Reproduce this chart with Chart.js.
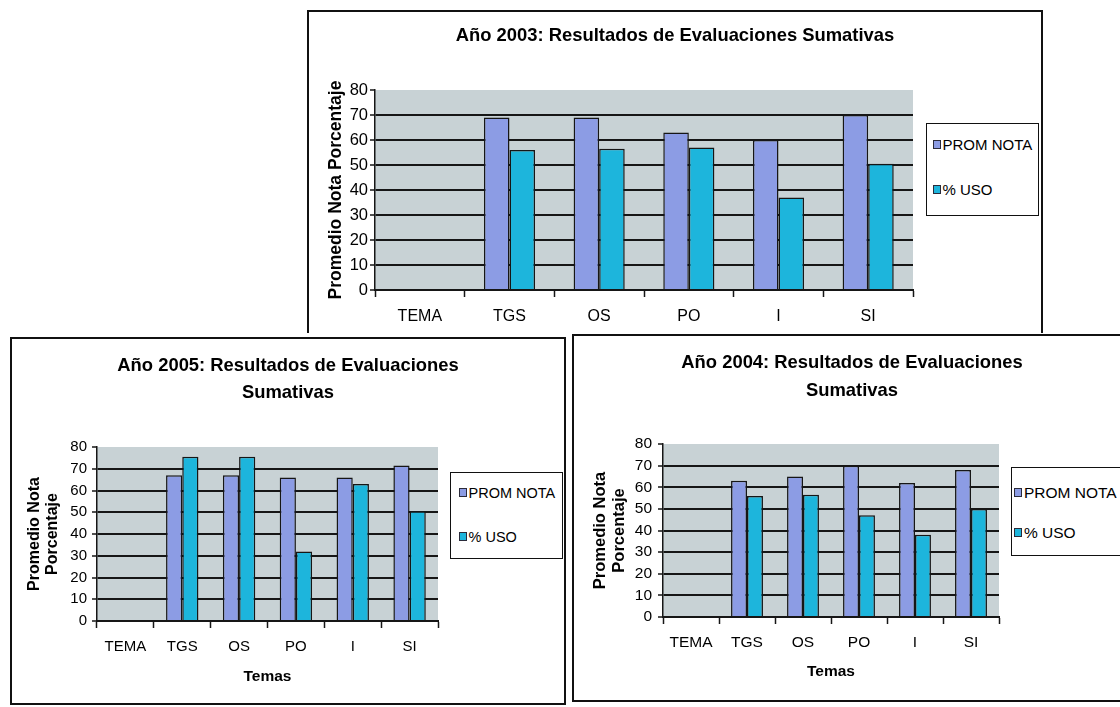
<!DOCTYPE html>
<html>
<head>
<meta charset="utf-8">
<script src="https://cdn.jsdelivr.net/npm/chart.js@4.4.1/dist/chart.umd.min.js"></script>
<style>
  html, body { margin: 0; padding: 0; background: #fff; width: 1120px; height: 707px; overflow: hidden; }
  .panel { position: absolute; }
  .panel canvas { display: block; }
  .legend { position: absolute; background: #fff; border: 1.5px solid #111; box-sizing: border-box;
            font-family: "Liberation Sans", Arial, sans-serif; color: #000; }
  .legend .item { position: absolute; height: 18px; line-height: 18px; display: flex; align-items: center; white-space: nowrap; }
  .legend .sw { display: inline-block; width: 6px; height: 7px; border: 1px solid #2b2b3a; margin-right: 2px; }
</style>
</head>
<body>
<div class="panel" style="left:307px; top:10px;"><canvas id="c2003" width="736" height="323"></canvas></div>
<div class="panel" style="left:10px; top:337px;"><canvas id="c2005" width="556" height="368"></canvas></div>
<div class="panel" style="left:572px; top:334px;"><canvas id="c2004" width="560" height="368"></canvas></div>
<script>
// Temas evaluados y resultados por año
const temas = ['TEMA', 'TGS', 'OS', 'PO', 'I', 'SI'];
const nombresSeries = ['PROM NOTA', '% USO'];
const yTicks = [0, 10, 20, 30, 40, 50, 60, 70, 80];

const promNota2003 = [null, 69, 69, 63, 60, 70];
const usoPct2003   = [null, 56, 56.5, 57, 37, 50.5];

const promNota2004 = [null, 63, 65, 70, 62, 68];
const usoPct2004   = [null, 56, 56.5, 47, 38, 50];

const promNota2005 = [null, 67, 67, 66, 66, 71.5];
const usoPct2005   = [null, 75.5, 75.5, 32, 63, 50.5];

const COLOR_PROM = '#8c9ce4';
const COLOR_USO = '#1db5dc';
const COLOR_PLOT = '#c8d2d5';
const INK = '#161616';
const SANS = '"Liberation Sans", Arial, sans-serif';

// White panel, grey plot background and the panel frame
const framePlugin = {
  id: 'frame',
  beforeDraw(chart, args, opts) {
    const { ctx, chartArea: a, width, height } = chart;
    ctx.save();
    ctx.fillStyle = '#fff';
    ctx.fillRect(0, 0, width, height);
    ctx.fillStyle = opts.plotColor;
    ctx.fillRect(a.left, a.top, a.right - a.left, a.bottom - a.top);
    ctx.restore();
  },
  afterDraw(chart, args, opts) {
    const { ctx, width, height } = chart;
    const s = opts.sides || [];
    ctx.save();
    ctx.strokeStyle = '#111';
    ctx.lineWidth = 2;
    ctx.beginPath();
    if (s.includes('left'))   { ctx.moveTo(1, 0); ctx.lineTo(1, height); }
    if (s.includes('top'))    { ctx.moveTo(0, 1); ctx.lineTo(width, 1); }
    if (s.includes('right'))  { ctx.moveTo(width - 1, 0); ctx.lineTo(width - 1, height); }
    if (s.includes('bottom')) { ctx.moveTo(0, height - 1); ctx.lineTo(width, height - 1); }
    ctx.stroke();
    ctx.restore();
  }
};

function buildChart(id, prom, uso, g) {
  const ctx = document.getElementById(id);
  return new Chart(ctx, {
    type: 'bar',
    data: {
      labels: temas,
      datasets: [
        { label: nombresSeries[0], data: prom, backgroundColor: COLOR_PROM, borderColor: INK, borderWidth: 1.5, yAxisID: 'y' },
        { label: nombresSeries[1], data: uso,  backgroundColor: COLOR_USO,  borderColor: INK, borderWidth: 1.5, yAxisID: 'y' }
      ]
    },
    options: {
      responsive: false,
      animation: false,
      events: [],
      layout: { padding: 0 },
      datasets: { bar: { categoryPercentage: 0.57, barPercentage: 1.0 } },
      plugins: {
        legend: { display: false },
        tooltip: { enabled: false },
        frame: { plotColor: COLOR_PLOT, sides: g.sides },
        title: {
          display: true,
          text: g.title,
          color: '#000',
          font: { family: SANS, size: 18.4, weight: 'bold', lineHeight: g.titleLH / 18.4 },
          padding: { top: g.titleTop, bottom: g.titleBottom }
        }
      },
      scales: {
        x: {
          offset: true,
          grid: { offset: true, drawOnChartArea: false, tickLength: 7, tickColor: INK, tickWidth: 1.5 },
          border: { color: INK, width: 2 },
          ticks: { color: '#000', font: { family: SANS, size: g.xSize }, padding: g.xPad, maxRotation: 0, autoSkip: false },
          title: {
            display: !!g.xTitle,
            text: g.xTitle || '',
            color: '#000',
            font: { family: SANS, size: 15.5, weight: 'bold' },
            padding: { top: 0, bottom: g.xTitlePad || 0 }
          },
          afterFit: s => { s.height = g.xH; }
        },
        y: {
          min: yTicks[0],
          max: yTicks[yTicks.length - 1],
          afterBuildTicks: s => { s.ticks = yTicks.map(v => ({ value: v })); },
          grid: {
            color: c => (c.tick && c.tick.value === yTicks[yTicks.length - 1]) ? 'rgba(0,0,0,0)' : INK,
            lineWidth: 2,
            tickColor: INK,
            tickWidth: 1.5,
            tickLength: 5
          },
          border: { color: INK, width: 1.5 },
          ticks: { color: '#000', font: { family: SANS, size: g.ySize }, padding: g.yPad },
          title: {
            display: true,
            text: g.yTitle,
            color: '#000',
            font: { family: SANS, size: g.yTitleSize, weight: 'bold', lineHeight: g.yTitleLH / g.yTitleSize },
            padding: { top: g.yTitlePad, bottom: 0 }
          },
          afterFit: s => { s.width = g.left; }
        },
        // reserves the room on the right that the legend box occupies
        margen: {
          type: 'linear',
          position: 'right',
          grid: { display: false },
          border: { display: false },
          ticks: { display: false },
          afterFit: s => { s.width = g.right; }
        }
      }
    },
    plugins: [framePlugin]
  });
}

function buildLegend(chart, box) {
  const el = document.createElement('div');
  el.className = 'legend';
  Object.assign(el.style, { left: box.x + 'px', top: box.y + 'px', width: box.w + 'px', height: box.h + 'px' });
  chart.data.datasets.forEach((ds, i) => {
    const row = document.createElement('div');
    row.className = 'item';
    row.style.left = box.itemX + 'px';
    row.style.top = (box.rows[i] - box.y - 1.5 - 9) + 'px';
    row.style.fontSize = box.size + 'px';
    const sw = document.createElement('span');
    sw.className = 'sw';
    sw.style.background = ds.backgroundColor;
    const tx = document.createElement('span');
    tx.textContent = ds.label;
    row.appendChild(sw);
    row.appendChild(tx);
    el.appendChild(row);
  });
  document.body.appendChild(el);
}

const ch2003 = buildChart('c2003', promNota2003, usoPct2003, {
  sides: ['left', 'top', 'right'],
  title: 'Año 2003: Resultados de Evaluaciones Sumativas',
  titleLH: 22, titleTop: 15, titleBottom: 43,
  left: 68, right: 130, xH: 43,
  xSize: 16, xPad: 10.4,
  ySize: 16.5, yPad: 2,
  yTitle: 'Promedio Nota Porcentaje', yTitleSize: 17.5, yTitleLH: 21, yTitlePad: 18.5
});

const ch2005 = buildChart('c2005', promNota2005, usoPct2005, {
  sides: ['left', 'top', 'right', 'bottom'],
  title: ['Año 2005: Resultados de Evaluaciones', 'Sumativas'],
  titleLH: 27, titleTop: 15.5, titleBottom: 40.5,
  left: 87, right: 128, xH: 84,
  xSize: 15, xPad: 10, xTitle: 'Temas', xTitlePad: 18.7,
  ySize: 15, yPad: 5,
  yTitle: ['Promedio Nota', 'Porcentaje'], yTitleSize: 16, yTitleLH: 18, yTitlePad: 16
});

const ch2004 = buildChart('c2004', promNota2004, usoPct2004, {
  sides: ['left', 'top', 'bottom'],
  title: ['Año 2004: Resultados de Evaluaciones', 'Sumativas'],
  titleLH: 28, titleTop: 15, titleBottom: 39,
  left: 91, right: 133, xH: 85,
  xSize: 15.5, xPad: 9.7, xTitle: 'Temas', xTitlePad: 20.7,
  ySize: 15.5, yPad: 6,
  yTitle: ['Promedio Nota', 'Porcentaje'], yTitleSize: 16.5, yTitleLH: 19, yTitlePad: 18.5
});

buildLegend(ch2003, { x: 926, y: 123, w: 113, h: 93, itemX: 5.5, rows: [145, 190], size: 15 });
buildLegend(ch2005, { x: 450, y: 472, w: 113, h: 87, itemX: 7.5, rows: [493, 537], size: 14.5 });
buildLegend(ch2004, { x: 1011, y: 467, w: 130, h: 89, itemX: 2, rows: [493, 533], size: 15.5 });
</script>
</body>
</html>
